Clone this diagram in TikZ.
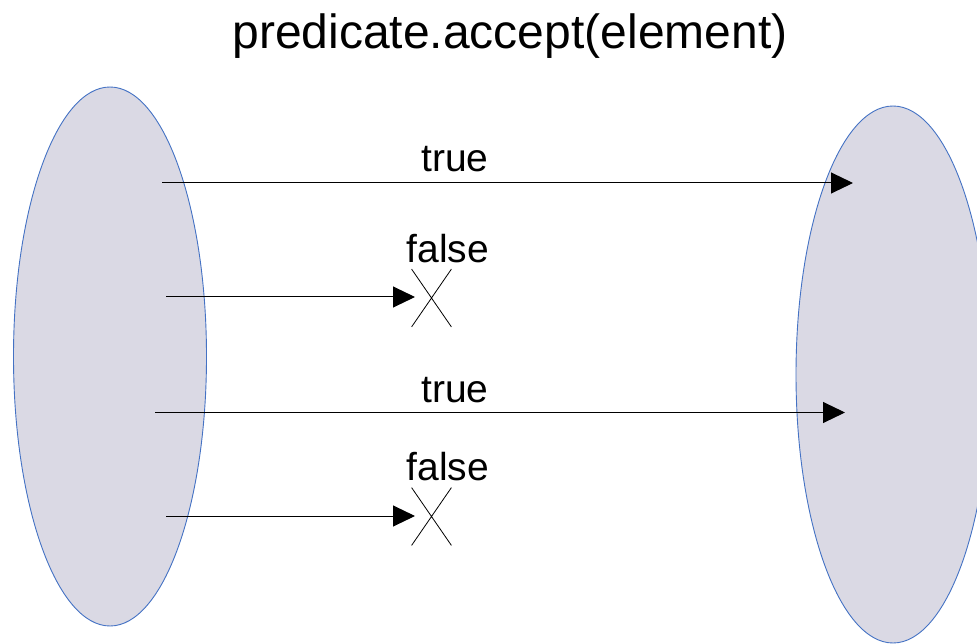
\documentclass[tikz,border=0pt]{standalone}
\usepackage{fontspec}
\setmainfont{Liberation Sans}
\usetikzlibrary{shapes.geometric,shapes.misc,arrows.meta}
\definecolor{blobfill}{HTML}{DAD9E4}
\definecolor{blobline}{HTML}{4472C4}
\tikzset{
  blob/.style={ellipse, draw=blobline, fill=blobfill, line width=0.9pt, inner sep=0pt},
  flow/.style={draw=black, line width=1pt, -{Triangle[length=22pt,width=21pt]}},
  lbl/.style={anchor=base, inner sep=0pt, font=\fontsize{39}{47}\selectfont},
  ttl/.style={anchor=base, inner sep=0pt, font=\fontsize{48}{58}\selectfont},
  xmark/.style={cross out, draw=black, line width=0.8pt, minimum width=39pt, minimum height=57pt, inner sep=0pt}
}
\begin{document}
\begin{tikzpicture}[x=1pt,y=-1pt]
\useasboundingbox (0,0) rectangle (977,644);
\clip (0,0) rectangle (977,644);
\node[blob, minimum width=193pt, minimum height=539pt] (L) at (110,356.5) {};
\node[blob, minimum width=194pt, minimum height=537pt] (R) at (893,374.5) {};
\node[ttl] (title) at (510,49) {predicate.accept(element)};
% connectors
\coordinate (s1) at (162,183);
\coordinate (e1) at (853,183);
\coordinate (s2) at (166,297);
\coordinate (e2) at (415,297);
\coordinate (s3) at (155,412.5);
\coordinate (e3) at (845,412.5);
\coordinate (s4) at (166,516);
\coordinate (e4) at (415,516);
\draw[flow] (s1) -- (e1);
\draw[flow] (s2) -- (e2);
\draw[flow] (s3) -- (e3);
\draw[flow] (s4) -- (e4);
\node[xmark] (x1) at (431.5,298) {};
\node[xmark] (x2) at (431.5,516.5) {};
\node[lbl] (t1) at (455,172) {true};
\node[lbl] (f1) at (448,263) {false};
\node[lbl] (t2) at (455,402) {true};
\node[lbl] (f2) at (448,480) {false};
\end{tikzpicture}
\end{document}
